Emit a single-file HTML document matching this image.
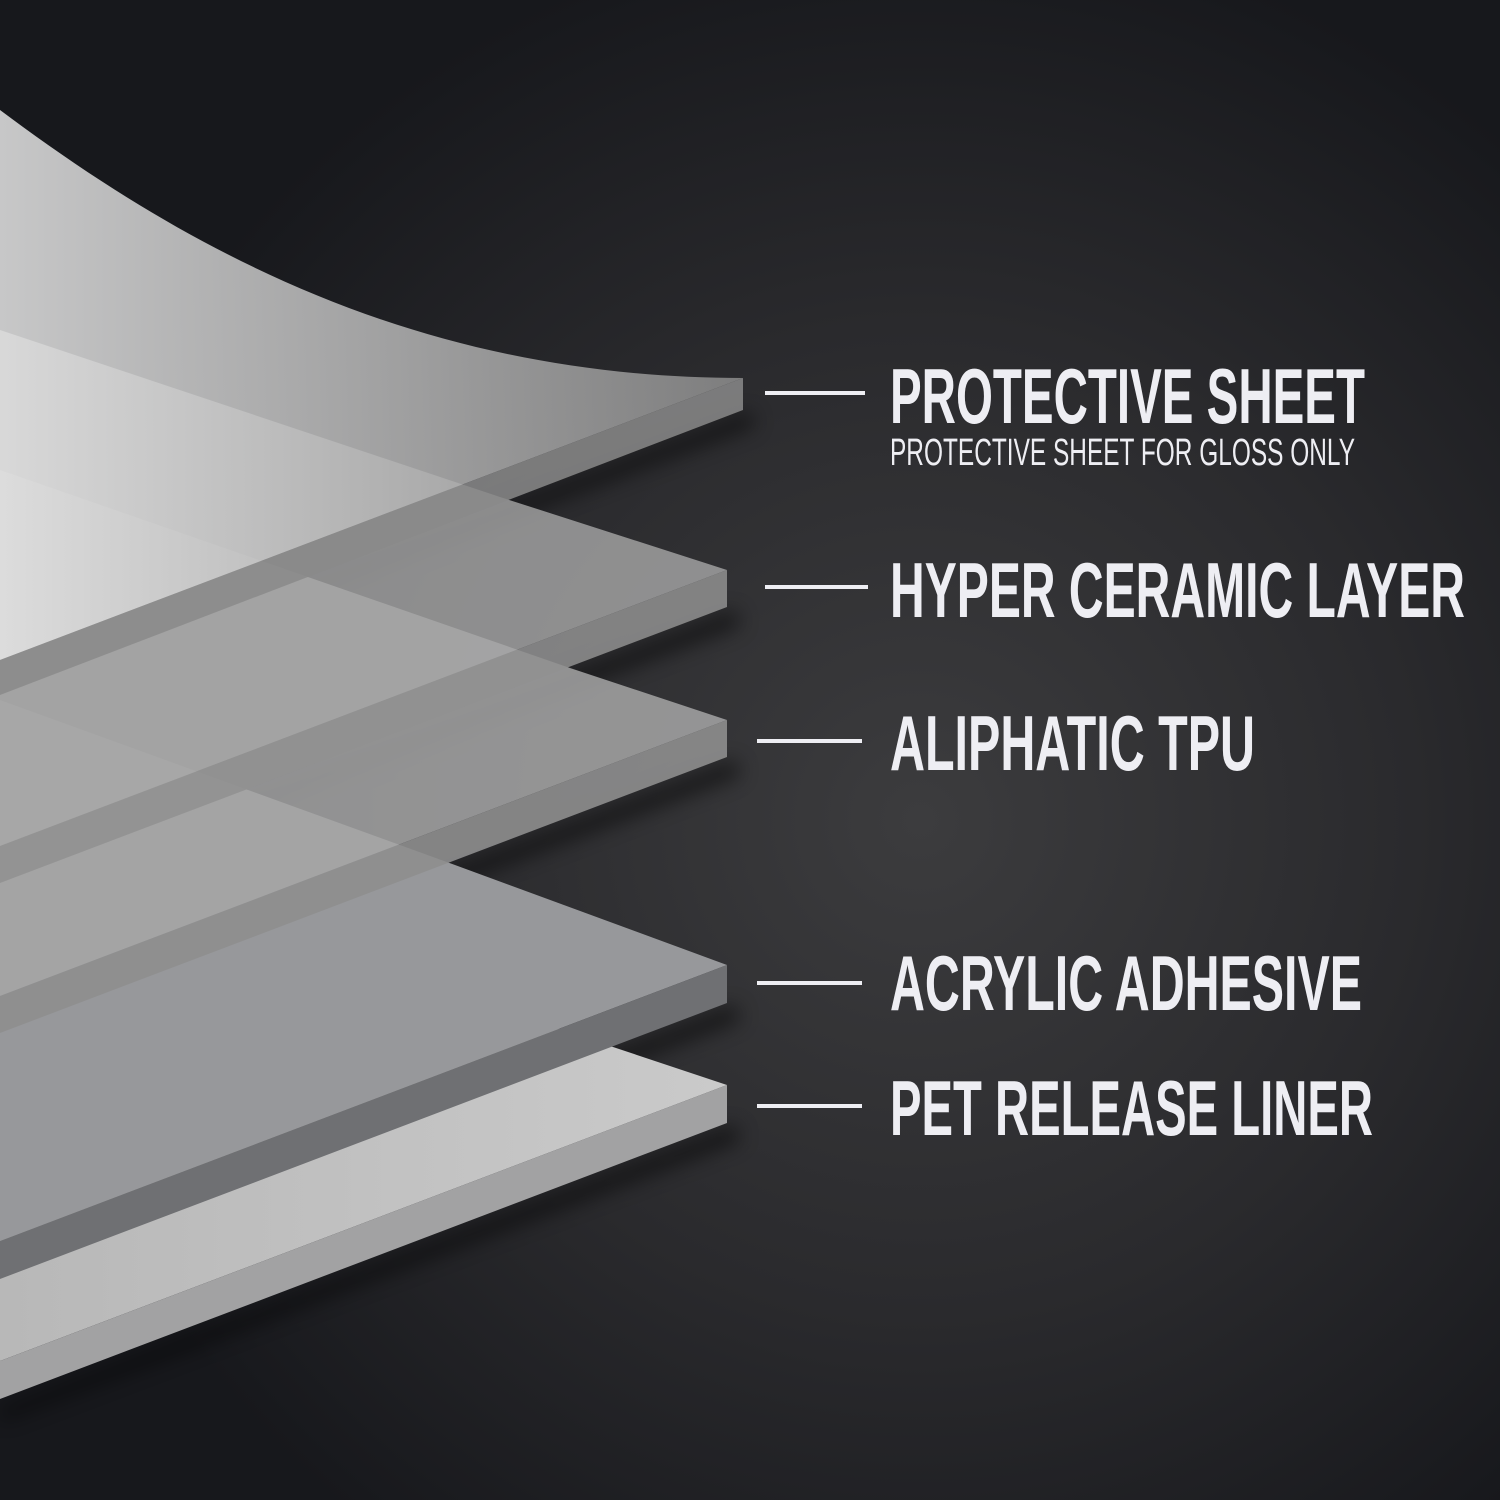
<!DOCTYPE html>
<html><head><style>
html,body{margin:0;padding:0;background:#1c1d21;}
svg{display:block}
text{font-family:"Liberation Sans Narrow","Liberation Sans",sans-serif;fill:#eeeef3;}
</style></head><body>
<svg width="1500" height="1500" viewBox="0 0 1500 1500" xmlns="http://www.w3.org/2000/svg">
<defs>
<radialGradient id="bg" cx="920" cy="820" r="900" gradientUnits="userSpaceOnUse">
<stop offset="0" stop-color="#3c3c3e"/><stop offset="0.55" stop-color="#2a2a2d"/><stop offset="1" stop-color="#17181c"/>
</radialGradient>
<linearGradient id="prot" x1="0" y1="0" x2="1" y2="0">
<stop offset="0" stop-color="#e6e6e6"/><stop offset="1" stop-color="#8c8c8c"/>
</linearGradient>
<linearGradient id="pet" x1="0" y1="0" x2="1" y2="0">
<stop offset="0" stop-color="#b8b8b8"/><stop offset="1" stop-color="#cacaca"/>
</linearGradient>
<filter id="sh" x="-20%" y="-20%" width="140%" height="140%"><feGaussianBlur stdDeviation="10"/></filter>
</defs>
<rect width="1500" height="1500" fill="url(#bg)"/>

<!-- shadows -->
<g filter="url(#sh)" opacity="0.6">
<polygon points="735,1125 0,1410 0,1420 740,1140" fill="#000"/>
<polygon points="735,1005 0,1290 0,1300 740,1020" fill="#000"/>
<polygon points="735,760 0,1045 0,1055 740,775" fill="#000"/>
<polygon points="735,610 0,895 0,905 740,625" fill="#000"/>
<polygon points="750,412 0,700 0,710 755,425" fill="#000"/>
</g>

<!-- PET -->
<polygon points="727,1085 610,1046 0,840 0,1361" fill="url(#pet)"/>
<polygon points="727,1085 727,1123 0,1399 0,1361" fill="#a2a2a3"/>
<!-- Acrylic -->
<polygon points="727,965 455,865 0,700 0,1241" fill="#97989b"/>
<polygon points="727,965 727,1003 0,1279 0,1241" fill="#6f7073"/>
<!-- TPU -->
<polygon points="727,720 570,668 0,470 0,996" fill="#a6a6a6" fill-opacity="0.85"/>
<polygon points="727,720 727,757 0,1033 0,996" fill="#8e8e8e" fill-opacity="0.9"/>
<!-- Ceramic -->
<polygon points="727,570 500,497 0,330 0,846" fill="#a8a8a8" fill-opacity="0.8"/>
<polygon points="727,570 727,607 0,883 0,846" fill="#909090" fill-opacity="0.85"/>
<!-- Protective -->
<path d="M0,110 C200,260 430,378 743,378 L0,660 Z" fill="url(#prot)" fill-opacity="0.85"/>
<polygon points="743,378 743,410 0,695 0,660" fill="#8a8a8a" fill-opacity="0.85"/>

<!-- lines -->
<g fill="#eeeef3">
<rect x="765" y="391" width="100" height="4"/>
<rect x="765" y="585" width="103" height="4"/>
<rect x="757" y="739" width="105" height="4"/>
<rect x="757" y="981" width="105" height="4"/>
<rect x="757" y="1104" width="105" height="4"/>
</g>

<g font-weight="bold" font-size="78">
<text x="890" y="423" textLength="475" lengthAdjust="spacingAndGlyphs">PROTECTIVE SHEET</text>
<text x="890" y="617" textLength="575" lengthAdjust="spacingAndGlyphs">HYPER CERAMIC LAYER</text>
<text x="890" y="770" textLength="365" lengthAdjust="spacingAndGlyphs">ALIPHATIC TPU</text>
<text x="890" y="1010" textLength="472" lengthAdjust="spacingAndGlyphs">ACRYLIC ADHESIVE</text>
<text x="890" y="1135" textLength="483" lengthAdjust="spacingAndGlyphs">PET RELEASE LINER</text>
</g>
<text x="890" y="465" font-size="38" textLength="465" lengthAdjust="spacingAndGlyphs">PROTECTIVE SHEET FOR GLOSS ONLY</text>
</svg>
</body></html>
